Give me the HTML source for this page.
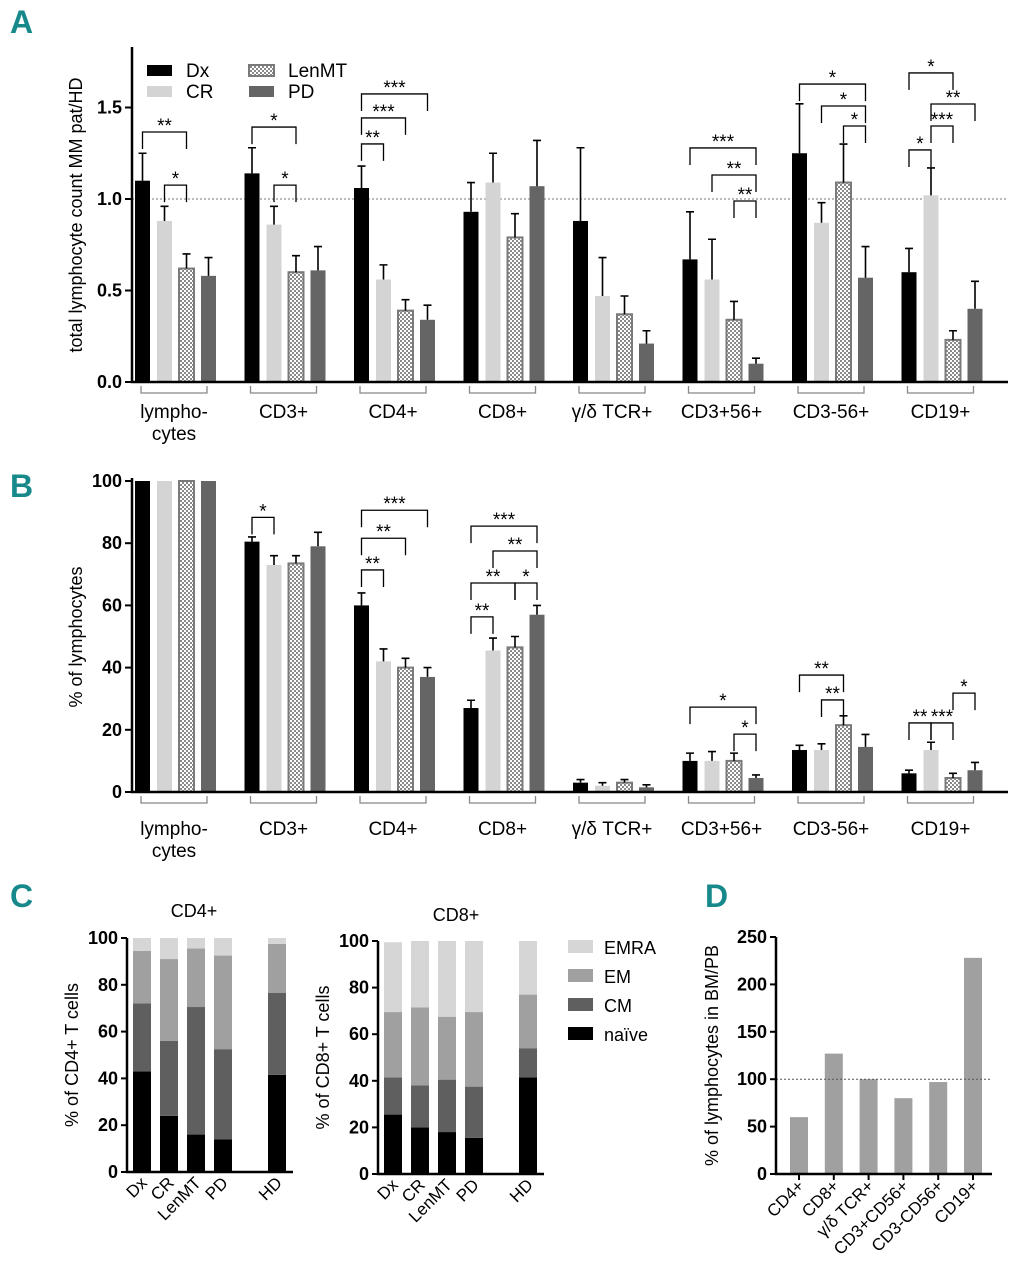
<!DOCTYPE html>
<html><head><meta charset="utf-8"><style>
body{margin:0;background:#fff}
svg{display:block;font-family:"Liberation Sans",sans-serif}
.tk{font-weight:bold;font-size:18px}
.pl{font-weight:bold;font-size:32px;fill:#17898a;font-family:"Liberation Sans Narrow","Liberation Sans",sans-serif}
</style></head><body>
<svg id="fig" width="1019" height="1280" viewBox="0 0 1019 1280" xmlns="http://www.w3.org/2000/svg">
<defs>
<pattern id="chk" width="4" height="4" patternUnits="userSpaceOnUse">
<rect width="4" height="4" fill="#fff"/><rect width="2" height="2" fill="#8a8a8a"/><rect x="2" y="2" width="2" height="2" fill="#8a8a8a"/>
</pattern>
</defs>
<text class="pl" x="10" y="33">A</text>
<text class="pl" x="10" y="497">B</text>
<text class="pl" x="10" y="907">C</text>
<text class="pl" x="705" y="907">D</text>
<g id="gA"></g><g id="gB"></g><g id="gC"></g><g id="gD"></g>
</svg>
<script>
const groups = ["lympho-cytes","CD3+","CD4+","CD8+","γ/δ TCR+","CD3+56+","CD3-56+","CD19+"];
const series = ["Dx","CR","LenMT","PD"];
const aVals = [[1.10,0.88,0.62,0.58],[1.14,0.86,0.60,0.61],[1.06,0.56,0.39,0.34],[0.93,1.09,0.79,1.07],[0.88,0.47,0.37,0.21],[0.67,0.56,0.34,0.10],[1.25,0.87,1.09,0.57],[0.60,1.02,0.23,0.40]];
const aErr = [[1.25,0.96,0.70,0.68],[1.28,0.96,0.69,0.74],[1.18,0.64,0.45,0.42],[1.09,1.25,0.92,1.32],[1.28,0.68,0.47,0.28],[0.93,0.78,0.44,0.13],[1.52,0.98,1.30,0.74],[0.73,1.17,0.28,0.55]];
const aTicks = [0,0.5,1.0,1.5];
const aTickLabels = ["0.0","0.5","1.0","1.5"];
const aSig = [[0,0,2,1.366,"**"],[0,1,2,1.076,"*"],[1,0,2,1.393,"*"],[1,1,2,1.076,"*"],[2,0,3,1.574,"***"],[2,0,2,1.443,"***"],[2,0,1,1.301,"**"],[5,0,3,1.279,"***"],[5,1,3,1.131,"**"],[5,2,3,0.989,"**"],[6,0,3,1.628,"*"],[6,1,3,1.508,"*"],[6,2,3,1.399,"*"],[7,0,2,1.689,"*"],[7,1,3,1.519,"**"],[7,1,2,1.399,"***"],[7,0,1,1.268,"*"]];
const bVals = [[100,100,100,100],[80.5,73,73.5,79],[60,42,40,37],[27,45.5,46.5,57],[3,2,3,1.5],[10,10,10,4.5],[13.5,13.5,21.5,14.5],[6,13.5,4.5,7]];
const bErr = [[100,100,100,100],[82,76,76,83.5],[64,46,43,40],[29.5,49.5,50,60],[4,3,4,2.3],[12.5,13,12.5,5.5],[15,15.5,24.5,18.5],[7,16,6,9.5]];
const bTicks = [0,20,40,60,80,100];
const bSig = [[1,0,1,88.3,"*"],[2,0,3,90.6,"***"],[2,0,2,81.6,"**"],[2,0,1,71.4,"**"],[3,0,3,85.5,"***"],[3,1,3,77.5,"**"],[3,0,2,67.2,"**"],[3,2,3,67.2,"*"],[3,0,1,56.3,"**"],[5,0,3,27.3,"*"],[5,2,3,18.6,"*"],[6,0,2,37.6,"**"],[6,1,2,29.6,"**"],[7,2,3,31.8,"*"],[7,0,1,22.2,"**"],[7,1,2,22.2,"***"]];
const cCats = ["Dx","CR","LenMT","PD","","HD"];
const cSubsets = ["naïve","CM","EM","EMRA"];
const cd4Naive = [43,24,16,14,null,41.5];
const cd4CM = [29,32,54.5,38.5,null,35];
const cd4EM = [22.5,35,25,40,null,21];
const cd4EMRA = [5.5,9,4.5,7.5,null,2.5];
const cd8Naive = [25.5,20,18,15.5,null,41.5];
const cd8CM = [16,18,22.5,22,null,12.5];
const cd8EM = [28,33.5,27,32,null,23];
const cd8EMRA = [30,28.5,32.5,30.5,null,23];
const cTicks = [0,20,40,60,80,100];
const dCats = ["CD4+","CD8+","γ/δ TCR+","CD3+CD56+","CD3-CD56+","CD19+"];
const dVals = [60,127,100,80,97,228];
const dTicks = [0,50,100,150,200,250];

const NS="http://www.w3.org/2000/svg";
function mk(p,tag,attrs,txt){const e=document.createElementNS(NS,tag);for(const k in attrs)e.setAttribute(k,attrs[k]);if(txt!==undefined)e.textContent=txt;p.appendChild(e);return e;}
const fills=["#000","#d4d4d4","url(#chk)","#656565"];
const colX=(g,i)=>135+g*109.5+i*22;
const BW=15;

function barPanel(gid,vals,errs,scale,y0,ticks,tickLabels,yTop,sig,title,titleY,catY,prefix){
  const G=document.getElementById(gid);
  const y=v=>y0-v*scale;
  if(prefix==="a"){const l=mk(G,"line",{x1:132,x2:1008,y1:y(1),y2:y(1),stroke:"#777","stroke-dasharray":"2,2","stroke-width":1});
    
    }
  vals.forEach((gv,g)=>gv.forEach((v,i)=>{
    const x=colX(g,i);
    const r=mk(G,"rect",{x:x,y:y(v),width:BW,height:y0-y(v),fill:fills[i],stroke:i===2?"#7a7a7a":"none","stroke-width":i===2?2:0});
    
    
    const e=errs[g][i];
    if(e>v){const cx=x+BW/2;
      const el=mk(G,"path",{d:`M${cx},${y(v)}V${y(e)}M${cx-4},${y(e)}H${cx+4}`,stroke:"#000","stroke-width":1.6,fill:"none"});
      
      }
  }));
  const ax=mk(G,"path",{d:`M132,${yTop}V${y0}H1008`,stroke:"#000","stroke-width":2.5,fill:"none"});
  
  
  ticks.forEach((t,k)=>{
    mk(G,"line",{x1:125,x2:132,y1:y(t),y2:y(t),stroke:"#000","stroke-width":2});
    const tl=mk(G,"text",{x:122,y:y(t)+6,"text-anchor":"end",class:"tk"},tickLabels[k]);
    
    
  });
  const yt=mk(G,"text",{x:0,y:0,"font-size":18,"text-anchor":"middle",transform:`translate(82,${titleY}) rotate(-90)`},title);
  
  
  groups.forEach((nm,g)=>{
    const x1=colX(g,0)+6;
    mk(G,"path",{d:`M${x1},${y0+4}V${y0+11}H${colX(g,0)+72}V${y0+4}`,stroke:"#888","stroke-width":1.3,fill:"none"});
    const cx=colX(g,0)+39;
    const lines=nm==="lympho-cytes"?["lympho-","cytes"]:[nm];
    lines.forEach((s,k)=>{const t=mk(G,"text",{x:cx,y:catY+k*22,"font-size":19,"text-anchor":"middle"},s);
      
      });
  });
  sig.forEach(s=>{
    const [g,a,b,lv,st]=s;const xa=colX(g,a)+BW/2,xb=colX(g,b)+BW/2,yy=y(lv);
    const p=mk(G,"path",{d:`M${xa},${yy+17}V${yy}H${xb}V${yy+17}`,stroke:"#000","stroke-width":1.3,fill:"none"});
    
    
    const t=mk(G,"text",{x:(xa+xb)/2,y:yy,"font-size":19,"text-anchor":"middle"},st);
    
    
  });
}
barPanel("gA",aVals,aErr,183,382,aTicks,aTickLabels,47,aSig,"total lymphocyte count MM pat/HD",215,418,"a");
barPanel("gB",bVals,bErr,3.11,792,bTicks,bTicks.map(String),478,bSig,"% of lymphocytes",637,835,"b");
(function(){const G=document.getElementById("gA");
  const pos=[[147,65],[147,86],[249,65],[249,86]];
  series.forEach((s,i)=>{
    const r=mk(G,"rect",{x:pos[i][0],y:pos[i][1],width:25,height:11,fill:fills[i],stroke:i===2?"#7a7a7a":"none","stroke-width":i===2?2:0});
    
    
    const t=mk(G,"text",{x:pos[i][0]+39,y:pos[i][1]+12,"font-size":19},s);
    
    
  });})();

const stackCols=["#000","#5f5f5f","#a0a0a0","#d6d6d6"];
function stack(axX,y0,sc,bx0,parts,title,titleX,titleY,ytitle,ytX,nm){
  const G=document.getElementById("gC");const y=v=>y0-v*sc;
  cCats.forEach((c,k)=>{
    if(parts[0][k]===null)return;
    let acc=0;
    parts.forEach((arr,j)=>{
      const r=mk(G,"rect",{x:bx0+k*27,y:y(acc+arr[k]),width:18,height:arr[k]*sc,fill:stackCols[j]});
      
      
      acc+=arr[k];
    });
    const cx=bx0+k*27+9;
    const t=mk(G,"text",{x:0,y:0,"font-size":17,"text-anchor":"end",transform:`translate(${cx+6},${y0+12}) rotate(-45)`},c);
    
    
  });
  mk(G,"path",{d:`M${axX},${y(100)}V${y0}H${bx0+5*27+25}`,stroke:"#000","stroke-width":2.5,fill:"none"});
  cTicks.forEach(t=>{mk(G,"line",{x1:axX-6,x2:axX,y1:y(t),y2:y(t),stroke:"#000","stroke-width":2});
    const l=mk(G,"text",{x:axX-9,y:y(t)+6,"text-anchor":"end",class:"tk"},t);
    
    });
  const tt=mk(G,"text",{x:titleX,y:titleY,"font-size":18,"text-anchor":"middle"},title);
  
  
  const yt=mk(G,"text",{x:0,y:0,"font-size":18,"text-anchor":"middle",transform:`translate(${ytX},${(y0+y(100))/2}) rotate(-90)`},ytitle);
  
  
}
stack(127,1172,2.34,133,[cd4Naive,cd4CM,cd4EM,cd4EMRA],"CD4+",194,917,"% of CD4+ T cells",78,"cd4");
stack(378,1174,2.33,384,[cd8Naive,cd8CM,cd8EM,cd8EMRA],"CD8+",456,921,"% of CD8+ T cells",329,"cd8");
(function(){const G=document.getElementById("gC");
  ["EMRA","EM","CM","naïve"].forEach((s,k)=>{
    const r=mk(G,"rect",{x:568,y:940+k*29,width:25,height:13,fill:stackCols[3-k]});
    
    
    const t=mk(G,"text",{x:604,y:954+k*29,"font-size":18},s);
    
    
  });})();

(function(){const G=document.getElementById("gD");const y0=1174,sc=0.948,y=v=>y0-v*sc;
  dVals.forEach((v,k)=>{
    const r=mk(G,"rect",{x:790+k*34.8,y:y(v),width:18,height:v*sc,fill:"#a0a0a0"});
    
    
    const cx=790+k*34.8+9;
    mk(G,"line",{x1:cx,x2:cx,y1:y0,y2:y0+6,stroke:"#000","stroke-width":2});
    const t=mk(G,"text",{x:0,y:0,"font-size":17,"text-anchor":"end",transform:`translate(${cx+6},${y0+13}) rotate(-45)`},dCats[k]);
    
    
  });
  const dl=mk(G,"line",{x1:776,x2:992,y1:y(100),y2:y(100),stroke:"#555","stroke-dasharray":"2,2","stroke-width":1});
  
  
  mk(G,"path",{d:`M776,${y(250)}V${y0}H992`,stroke:"#000","stroke-width":2.5,fill:"none"});
  dTicks.forEach(t=>{mk(G,"line",{x1:770,x2:776,y1:y(t),y2:y(t),stroke:"#000","stroke-width":2});
    const l=mk(G,"text",{x:767,y:y(t)+6,"text-anchor":"end",class:"tk"},t);
    
    });
  const yt=mk(G,"text",{x:0,y:0,"font-size":18,"text-anchor":"middle",transform:`translate(718,${(y0+y(250))/2}) rotate(-90)`},"% of lymphocytes in BM/PB");
  
  
})();
</script>
</body></html>
